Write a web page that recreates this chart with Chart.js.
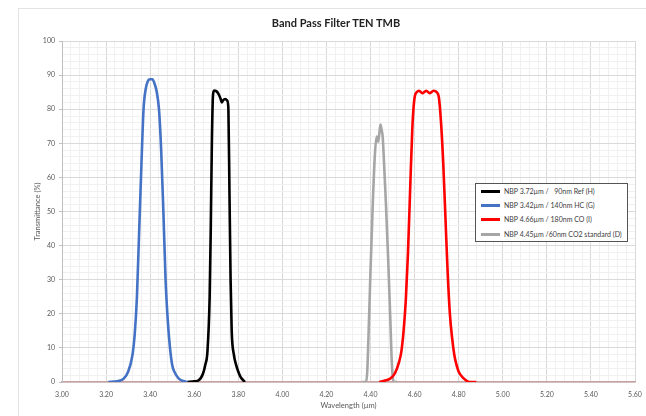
<!DOCTYPE html>
<html>
<head>
<meta charset="utf-8">
<script src="https://cdn.jsdelivr.net/npm/chart.js@4.4.1/dist/chart.umd.min.js"></script>
<style>
  html, body { margin: 0; padding: 0; background: #fff; }
  #wrap { position: relative; width: 646px; height: 416px; overflow: hidden; font-family: Lato, "Open Sans", sans-serif; }
  #frame { position: absolute; left: 18px; top: 8px; width: 700px; height: 500px; border: 1px solid #e3e3e3; }
  #title { position: absolute; left: 236px; width: 200px; top: 16px; text-align: center; font-weight: bold; font-size: 11px; color: #222; }
  canvas { position: absolute; left: 0; top: 0; }
  #legend { position: absolute; left: 475px; top: 183px; width: 151px; height: 57px; border: 1px solid #555; background: #fff; font-size: 7px; color: #404040; }
  .row { position: absolute; left: 5px; height: 10px; white-space: pre; }
  .row i { position: absolute; left: 0; top: 4px; width: 19px; height: 3px; }
  .row span { position: absolute; left: 23px; top: 1px; }
</style>
</head>
<body>
<div id="wrap">
  <div id="frame"></div>
  <canvas id="chart" width="646" height="416"></canvas>
  <div id="title">Band Pass Filter TEN TMB</div>
  <div id="legend"></div>
</div>
<script>
// filter names, colours
const seriesNames = [
  "NBP 3.72\u00b5m /   90nm Ref (H)",
  "NBP 3.42\u00b5m / 140nm HC (G)",
  "NBP 4.66\u00b5m / 180nm CO (I)",
  "NBP 4.45\u00b5m /60nm CO2 standard (D)"
];
const seriesColors = ["#000000", "#4472C4", "#FF0000", "#A6A6A6"];

// black - 3.72um / 90nm
const refWl = [3.57, 3.60, 3.62, 3.64, 3.65, 3.66, 3.67, 3.675, 3.68, 3.685, 3.69, 3.70, 3.71, 3.72, 3.725, 3.73, 3.74, 3.75, 3.755, 3.76, 3.765, 3.77, 3.78, 3.79, 3.80, 3.81, 3.83];
const refT  = [0, 0.2, 0.5, 2.5, 5, 9, 25, 45, 70, 84, 85.5, 85.3, 84.5, 83, 82, 82.5, 83, 82.5, 80, 55, 30, 15, 8, 5, 3, 1.5, 0];

// blue - 3.42um / 140nm
const hcWl = [3.21, 3.25, 3.28, 3.30, 3.32, 3.33, 3.34, 3.35, 3.36, 3.37, 3.38, 3.39, 3.40, 3.41, 3.42, 3.43, 3.44, 3.45, 3.46, 3.47, 3.48, 3.49, 3.50, 3.51, 3.53, 3.55, 3.57];
const hcT  = [0, 0.2, 1, 3, 8, 14, 25, 44, 63, 80, 86, 88.3, 88.8, 88.8, 87.5, 85, 80, 68, 50, 30, 18, 10, 5, 3, 1, 0.3, 0];

// red - 4.66um / 180nm
const coWl = [4.44, 4.47, 4.49, 4.51, 4.53, 4.54, 4.55, 4.56, 4.57, 4.58, 4.59, 4.60, 4.61, 4.62, 4.635, 4.653, 4.668, 4.686, 4.70, 4.71, 4.72, 4.73, 4.74, 4.75, 4.76, 4.77, 4.78, 4.79, 4.80, 4.82, 4.85, 4.88];
const coT  = [0, 0.5, 1, 2.5, 6, 9, 15, 24, 38, 57, 75, 83.5, 85, 85.4, 84.7, 85.4, 84.7, 85.4, 85, 83.5, 76, 64, 48, 32, 20, 13, 8, 5, 3, 1.2, 0, 0];

// grey - 4.45um / 60nm
const co2Wl = [4.36, 4.38, 4.385, 4.39, 4.40, 4.41, 4.42, 4.428, 4.435, 4.44, 4.445, 4.45, 4.455, 4.46, 4.47, 4.48, 4.49, 4.495, 4.50, 4.505, 4.52];
const co2T  = [0, 0, 3, 12, 33, 52, 67, 72, 70.5, 73, 75.5, 74, 72, 66, 52, 36, 18, 8, 2, 0, 0];

const xMin = 3.0, xMax = 5.6, xMinor = 0.04, xMajor = 0.2;
const yMin = 0, yMax = 100, yMinor = 2, yMajor = 10;

const isMajor = (v, step) => Math.abs(Math.round(v / step) * step - v) < 1e-6;
const toPoints = (xs, ys) => xs.map((x, i) => ({ x: x, y: ys[i] }));

const curves = [[refWl, refT], [hcWl, hcT], [coWl, coT], [co2Wl, co2T]];

// legend box
const legend = document.getElementById("legend");
const rowTops = [2, 16, 30, 45];
seriesNames.forEach((name, i) => {
  const row = document.createElement("div");
  row.className = "row";
  row.style.top = rowTops[i] + "px";
  row.innerHTML = '<i style="background:' + seriesColors[i] + '"></i><span></span>';
  row.querySelector("span").textContent = name;
  legend.appendChild(row);
});

new Chart(document.getElementById("chart"), {
  type: "line",
  data: {
    datasets: curves.map((c, i) => ({
      label: seriesNames[i],
      data: toPoints(c[0], c[1]),
      borderColor: seriesColors[i],
      backgroundColor: seriesColors[i],
      borderWidth: 2.6,
      pointRadius: 0,
      cubicInterpolationMode: "monotone",
      fill: false,
    })),
  },
  options: {
    responsive: false,
    animation: false,
    layout: { padding: { left: 0, right: 11, top: 41, bottom: 0 } },
    plugins: {
      legend: { display: false },
      tooltip: { enabled: false },
      title: { display: false },
    },
    scales: {
      x: {
        type: "linear",
        min: xMin,
        max: xMax,
        afterFit: (s) => { s.height = 34; s.paddingLeft = 0; s.paddingRight = 0; },
        afterBuildTicks: (s) => {
          const t = [];
          for (let i = 0; i <= Math.round((xMax - xMin) / xMinor); i++) t.push({ value: +(xMin + i * xMinor).toFixed(2) });
          s.ticks = t;
        },
        ticks: {
          autoSkip: false,
          maxRotation: 0,
          padding: 9,
          color: "#595959",
          font: { family: "Lato", size: 7 },
          callback: (v) => (isMajor(v, xMajor) ? v.toFixed(2) : ""),
        },
        grid: {
          drawTicks: false,
          color: (ctx) => (ctx.tick && isMajor(ctx.tick.value, xMajor) ? "#d9d9d9" : "#f0f0f0"),
        },
        border: { display: true, color: "#c9a3a3", width: 1.5 },
        title: {
          display: true,
          text: "Wavelength (\u00b5m)",
          color: "#595959",
          font: { family: "Lato", size: 7.5 },
          padding: { top: 0, bottom: 6 },
        },
      },
      y: {
        min: yMin,
        max: yMax,
        afterFit: (s) => { s.width = 62; },
        afterBuildTicks: (s) => {
          const t = [];
          for (let v = yMin; v <= yMax; v += yMinor) t.push({ value: v });
          s.ticks = t;
        },
        ticks: {
          autoSkip: false,
          padding: 4,
          color: "#595959",
          font: { family: "Lato", size: 7 },
          callback: (v) => (v % yMajor === 0 ? String(v) : ""),
        },
        grid: {
          tickLength: 3,
          color: (ctx) => (ctx.tick && ctx.tick.value % yMajor === 0 ? "#d9d9d9" : "#f0f0f0"),
          tickColor: (ctx) => (ctx.tick && ctx.tick.value % yMajor === 0 ? "#bfbfbf" : "rgba(0,0,0,0)"),
        },
        border: { display: true, color: "#bfbfbf", width: 1 },
        title: {
          display: true,
          text: "Transmittance (%)",
          color: "#595959",
          font: { family: "Lato", size: 7.5 },
          padding: { top: 33, bottom: 0 },
        },
      },
    },
  },
});
</script>
</body>
</html>
